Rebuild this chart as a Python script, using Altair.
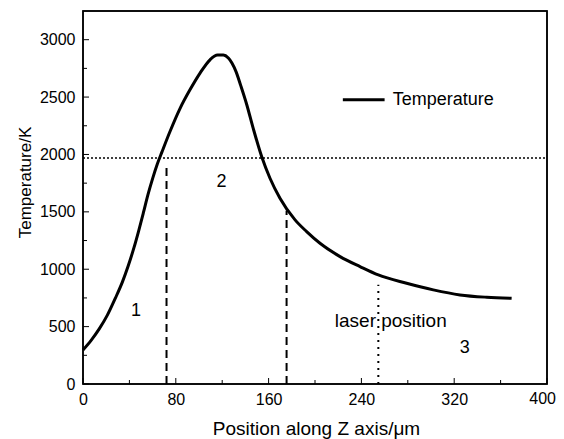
import altair as alt
import pandas as pd

# Curve data
pos = [0, 7, 14, 21, 28, 34, 39, 44, 48, 52, 56, 60, 64, 68, 75, 83.6, 92.2, 100.9,
       109.5, 116, 121, 125.3, 128.5, 132, 136, 141, 146.8, 154, 161.2, 169.8, 182.8, 192.8,
       204.3, 221.6, 238.8, 254.6, 279, 302, 325, 348, 369.5]
temp = [296, 380, 480, 600, 750, 890, 1030, 1190, 1335, 1490, 1650, 1790, 1915, 2020, 2200,
        2400, 2563, 2709,
        2825, 2866, 2866, 2840, 2795, 2720, 2600, 2440, 2225, 1982, 1793, 1619, 1430, 1328,
        1226, 1110, 1023, 950, 878, 820, 776, 756, 747]

hline_y = [1970]
dashed_x = [72, 175.5]
dashed_top = [1890, 1510]
dotted_x = [254.6]
dotted_top = [865]

x_major = [0, 80, 160, 240, 320, 400]
x_axis_labels = [0, 80, 160, 240, 320]
x_last_label = [400]
x_minor = [40, 120, 200, 280, 360]
y_major = [0, 500, 1000, 1500, 2000, 2500, 3000]
y_minor = [250, 750, 1250, 1750, 2250, 2750]

label_text = ["1", "2", "3"]
label_x = [45.7, 119.5, 329]
label_y = [639, 1764, 318]

legend_x = [224, 260]
legend_y = 2476
legend_label = "Temperature"
laser_label = "laser position"
laser_xy = (265.3, 550)

FONT = "Liberation Sans"
W, H = 464, 373

xs = alt.Scale(domain=[0, 400], nice=False, zero=False)
ys = alt.Scale(domain=[0, 3250], nice=False, zero=False)

xaxis = alt.Axis(values=x_axis_labels, format="d", grid=False, ticks=False, domain=False,
                 labelFontSize=16, labelFont=FONT, labelColor="black", labelPadding=7,
                 title="Position along Z axis/μm", titleFont=FONT, titleFontSize=19,
                 titleFontWeight="normal", titleColor="black",
                 titleBaseline="alphabetic", titleY=50, titleX=233, labelFlush=False)
yaxis = alt.Axis(values=y_major, format="d", grid=False, ticks=False, domain=False,
                 labelFontSize=16, labelFont=FONT, labelColor="black", labelPadding=8,
                 title="Temperature/K", titleFont=FONT, titleFontSize=17,
                 titleFontWeight="normal", titleColor="black", titleAngle=270,
                 titleBaseline="alphabetic", titleX=-53, titleY=171, titleAlign="center")

curve_df = pd.DataFrame({"x": pos, "y": temp})
curve = alt.Chart(curve_df).mark_line(color="black", strokeWidth=3, interpolate="monotone").encode(
    x=alt.X("x:Q", scale=xs, axis=xaxis),
    y=alt.Y("y:Q", scale=ys, axis=yaxis),
)

hline = alt.Chart(pd.DataFrame({"y": hline_y})).mark_rule(
    color="black", strokeWidth=1.5, strokeDash=[2, 2]).encode(
    y=alt.Y("y:Q", scale=ys), x=alt.value(0), x2=alt.value(W))

dashed = alt.Chart(pd.DataFrame({"x": dashed_x, "y": [0, 0], "y2": dashed_top})).mark_rule(
    color="black", strokeWidth=2, strokeDash=[8, 5]).encode(
    x=alt.X("x:Q", scale=xs), y=alt.Y("y:Q", scale=ys), y2="y2:Q")

dotted = alt.Chart(pd.DataFrame({"x": dotted_x, "y": [0], "y2": dotted_top})).mark_rule(
    color="black", strokeWidth=2, strokeDash=[2, 5]).encode(
    x=alt.X("x:Q", scale=xs), y=alt.Y("y:Q", scale=ys), y2="y2:Q")

xmaj = alt.Chart(pd.DataFrame({"x": x_major})).mark_rule(color="black", strokeWidth=1).encode(
    x=alt.X("x:Q", scale=xs), y=alt.value(H), y2=alt.value(H - 6))
xmin = alt.Chart(pd.DataFrame({"x": x_minor})).mark_rule(color="black", strokeWidth=1).encode(
    x=alt.X("x:Q", scale=xs), y=alt.value(H), y2=alt.value(H - 4))
ymaj = alt.Chart(pd.DataFrame({"y": y_major})).mark_rule(color="black", strokeWidth=1).encode(
    y=alt.Y("y:Q", scale=ys), x=alt.value(0), x2=alt.value(6))
ymin = alt.Chart(pd.DataFrame({"y": y_minor})).mark_rule(color="black", strokeWidth=1).encode(
    y=alt.Y("y:Q", scale=ys), x=alt.value(0), x2=alt.value(4))

# plot frame
frame = alt.Chart(pd.DataFrame({"k": [0]})).mark_rect(
    fill=None, stroke="black", strokeWidth=1.5, fillOpacity=0).encode(
    x=alt.value(0), x2=alt.value(W), y=alt.value(0), y2=alt.value(H))

last_lab = alt.Chart(pd.DataFrame({"x": x_last_label, "t": [str(v) for v in x_last_label]})).mark_text(
    font=FONT, fontSize=16, color="black", align="right", baseline="top", dx=9).encode(
    x=alt.X("x:Q", scale=xs), y=alt.value(H + 7), text="t:N")

labels = alt.Chart(pd.DataFrame({"t": label_text, "x": label_x, "y": label_y})).mark_text(
    font=FONT, fontSize=18, color="black", align="center", baseline="middle").encode(
    x=alt.X("x:Q", scale=xs), y=alt.Y("y:Q", scale=ys), text="t:N")

laser = alt.Chart(pd.DataFrame({"t": [laser_label], "x": [laser_xy[0]], "y": [laser_xy[1]]})).mark_text(
    font=FONT, fontSize=19, color="black", align="center", baseline="middle").encode(
    x=alt.X("x:Q", scale=xs), y=alt.Y("y:Q", scale=ys), text="t:N")

leg_line = alt.Chart(pd.DataFrame({"x": [legend_x[0]], "x2": [legend_x[1]], "y": [legend_y]})).mark_rule(
    color="black", strokeWidth=3).encode(
    x=alt.X("x:Q", scale=xs), x2="x2:Q", y=alt.Y("y:Q", scale=ys))
leg_text = alt.Chart(pd.DataFrame({"t": [legend_label], "x": [legend_x[1] + 7], "y": [legend_y]})).mark_text(
    font=FONT, fontSize=18, color="black", align="left", baseline="middle").encode(
    x=alt.X("x:Q", scale=xs), y=alt.Y("y:Q", scale=ys), text="t:N")

chart = alt.layer(
    hline, dashed, dotted, xmaj, xmin, ymaj, ymin, frame, curve, last_lab, labels, laser, leg_line, leg_text
).properties(
    width=W, height=H,
    autosize=alt.AutoSizeParams(type="none"),
    padding={"left": 75, "top": 3, "right": 9, "bottom": 58},
).configure(background="white").configure_view(stroke="black", strokeWidth=1.5)

chart.save("out.html", embed_options={"renderer": "svg", "actions": False})
